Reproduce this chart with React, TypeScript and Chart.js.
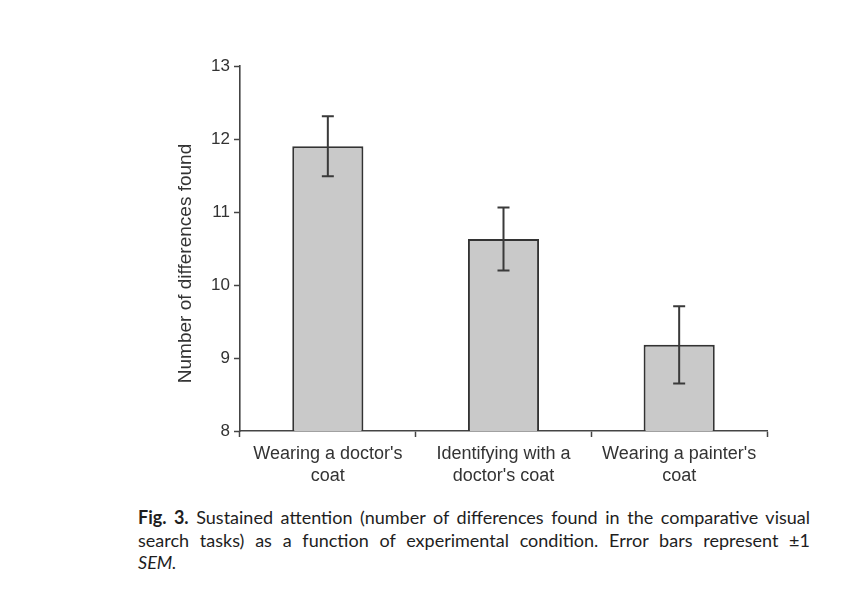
import React, { useEffect, useRef } from "react";
import { Chart, registerables } from "chart.js";

Chart.register(...registerables);

const categories: string[][] = [
  ["Wearing a doctor's", "coat"],
  ["Identifying with a", "doctor's coat"],
  ["Wearing a painter's", "coat"],
];
const means: number[] = [11.9, 10.63, 9.18];
const sems: number[] = [0.41, 0.43, 0.53];
const yTicks: number[] = [8, 9, 10, 11, 12, 13];
const yTitle = "Number of differences found";

const errorBarPlugin = {
  id: "errorBars",
  afterDatasetsDraw(chart: any) {
    const ctx = chart.ctx;
    const meta = chart.getDatasetMeta(0);
    const y = chart.scales.y;
    ctx.save();
    ctx.strokeStyle = "#3a3a3a";
    ctx.lineWidth = 2;
    meta.data.forEach((bar: any, i: number) => {
      const x = bar.x;
      const top = y.getPixelForValue(means[i] + sems[i]);
      const bot = y.getPixelForValue(means[i] - sems[i]);
      const cap = 6;
      ctx.beginPath();
      ctx.moveTo(x, top);
      ctx.lineTo(x, bot);
      ctx.moveTo(x - cap, top);
      ctx.lineTo(x + cap, top);
      ctx.moveTo(x - cap, bot);
      ctx.lineTo(x + cap, bot);
      ctx.stroke();
    });
    ctx.restore();
  },
};

// y-axis title drawn slightly below the plot centre, as in the reference
const yTitlePlugin = {
  id: "yTitle",
  afterDraw(chart: any) {
    const ctx = chart.ctx;
    const y = chart.scales.y;
    const cy = (y.top + y.bottom) / 2 + 15;
    ctx.save();
    ctx.translate(186, cy);
    ctx.rotate(-Math.PI / 2);
    ctx.fillStyle = "#333";
    ctx.font = "19px 'Liberation Sans', Arial, sans-serif";
    ctx.textAlign = "center";
    ctx.textBaseline = "middle";
    ctx.fillText(yTitle, 0, 0);
    ctx.restore();
  },
};

export default function App() {
  const ref = useRef<HTMLCanvasElement>(null);
  useEffect(() => {
    if (!ref.current) return;
    const chart = new Chart(ref.current, {
      type: "bar",
      data: {
        labels: categories,
        datasets: [
          {
            data: means,
            backgroundColor: "#c9c9c9",
            borderColor: "#333333",
            borderWidth: 2,
            categoryPercentage: 1,
            barPercentage: 0.405,
          },
        ],
      },
      options: {
        animation: false,
        responsive: false,
        maintainAspectRatio: false,
        layout: { padding: { left: 174.6, top: 66, right: 83, bottom: 0 } },
        plugins: { legend: { display: false }, tooltip: { enabled: false } },
        scales: {
          x: {
            type: "category",
            offset: true,
            grid: {
              offset: true,
              drawOnChartArea: false,
              drawTicks: true,
              tickLength: 6,
              tickColor: "#444",
              tickWidth: 1.5,
            },
            border: { display: true, color: "#444", width: 1.6 },
            ticks: {
              color: "#333",
              padding: 6,
              maxRotation: 0,
              autoSkip: false,
              font: { family: "'Liberation Sans', Arial, sans-serif", size: 18, lineHeight: 1.22 },
            },
            afterFit(scale: any) {
              scale.height = 69;
            },
          },
          y: {
            min: 8,
            max: 13,
            afterBuildTicks(scale: any) {
              scale.ticks = yTicks.map((v) => ({ value: v }));
            },
            grid: {
              drawOnChartArea: false,
              drawTicks: true,
              tickLength: 6,
              tickColor: "#444",
              tickWidth: 1.5,
            },
            border: { display: true, color: "#444", width: 1.6 },
            ticks: {
              color: "#333",
              padding: 4,
              font: { family: "'Liberation Sans', Arial, sans-serif", size: 17 },
            },
            afterFit(scale: any) {
              scale.width = 240 - 174.6;
            },
          },
        },
      },
      plugins: [errorBarPlugin, yTitlePlugin],
    });
    return () => chart.destroy();
  }, []);

  const capFont = "Lato, 'Liberation Sans', Arial, sans-serif";
  const lineStyle: React.CSSProperties = {
    textAlign: "justify",
    textAlignLast: "justify" as any,
    whiteSpace: "nowrap",
    height: 22.5,
    lineHeight: "22.5px",
  };
  return (
    <div
      style={{
        position: "fixed",
        left: 0,
        top: 0,
        width: 850,
        height: 616,
        background: "#fff",
        overflow: "hidden",
      }}
    >
      <canvas ref={ref} width={850} height={500} style={{ position: "absolute", left: 0, top: 0, width: 850, height: 500 }} />
      <div
        style={{
          position: "absolute",
          left: 138,
          top: 506,
          width: 672,
          fontFamily: capFont,
          fontSize: 18,
          color: "#1e1e1e",
        }}
      >
        <div style={lineStyle}>
          <b>Fig. 3.</b> Sustained attention (number of differences found in the comparative visual
        </div>
        <div style={lineStyle}>search tasks) as a function of experimental condition. Error bars represent ±1</div>
        <div style={{ height: 22.5, lineHeight: "22.5px", fontStyle: "italic" }}>SEM.</div>
      </div>
    </div>
  );
}
